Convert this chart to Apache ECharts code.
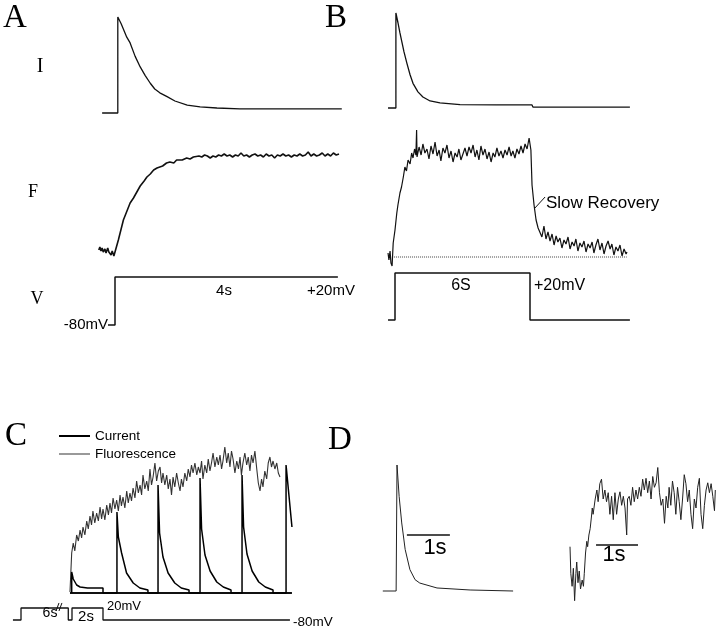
<!DOCTYPE html>
<html><head><meta charset="utf-8">
<script src="https://cdn.jsdelivr.net/npm/echarts@6/dist/echarts.min.js"></script>
<style>html,body{margin:0;padding:0;background:#fff}#c{width:720px;height:632px}</style>
</head><body><div id="c"></div>
<script>
// ---------- DATA (time in s, amplitudes normalised / a.u. / mV) ----------
// Panel A
const aCurrent = [[-0.23,0],[0.05,0],[0.05,1],[0.11,0.93],[0.16,0.86],[0.21,0.79],[0.27,0.73],[0.36,0.59],[0.45,0.48],[0.54,0.39],[0.63,0.31],[0.71,0.25],[0.80,0.21],[0.93,0.17],[1.07,0.125],[1.29,0.083],[1.52,0.063],[1.82,0.052],[2.23,0.042],[4.05,0.042]];
const aFluor = [[-0.29,6],[-0.27,9],[-0.25,5],[-0.23,8],[-0.21,4],[-0.18,7],[-0.16,3],[-0.13,8],[-0.11,4],[-0.09,6],[-0.07,1],[-0.05,5],[-0.02,0],[0,-1],[0.06,16],[0.15,36],[0.27,53],[0.33,58],[0.39,64],[0.45,70],[0.52,75],[0.57,79],[0.63,82],[0.69,86],[0.75,88],[0.85,90],[0.92,93],[0.98,94],[1.05,93],[1.1,96],[1.2,96],[1.28,98],[1.34,97],[1.4,99],
 [1.50,100],[1.55,99],[1.60,101],[1.65,100],[1.70,98],[1.75,100],[1.80,99],[1.85,101],[1.90,100],[1.95,102],[2.00,100],[2.05,101],[2.10,99],[2.15,101],[2.20,100],[2.25,103],[2.30,100],[2.35,101],[2.40,99],[2.45,101],[2.50,102],[2.55,100],[2.60,101],[2.65,99],[2.70,102],[2.75,100],[2.80,101],[2.85,98],[2.90,101],[2.95,100],[3.00,102],[3.05,100],[3.10,101],[3.15,99],[3.20,101],[3.25,100],[3.30,102],[3.35,100],[3.40,101],[3.45,104],[3.50,100],[3.55,102],[3.60,100],[3.65,101],[3.70,103],[3.75,100],[3.80,102],[3.85,100],[3.90,103],[3.95,101],[4.00,102]];
const aVoltage = [[-0.125,-80],[0,-80],[0,20],[3.98,20]];
// Panel B
const bCurrent = [[-0.31,0],[0.04,0],[0.04,1],[0.13,0.9],[0.22,0.79],[0.31,0.69],[0.4,0.59],[0.53,0.47],[0.67,0.35],[0.8,0.26],[1.02,0.17],[1.24,0.116],[1.56,0.074],[2.0,0.053],[2.89,0.035],[4.5,0.032],[6.09,0.032],[6.13,0.01],[10.44,0.01]];
const bFluor = [[-0.31,4],[-0.27,-3],[-0.22,6],[-0.18,-6],[-0.13,-9],[-0.08,14],[0,27],[0.08,44],[0.13,52],[0.22,64],[0.29,70],[0.37,80],[0.44,90],[0.51,86],[0.58,97],[0.67,93],[0.74,104],[0.8,99],[0.87,108],[0.93,102],[0.96,127],
 [0.98,100],[1.07,110],[1.16,102],[1.24,113],[1.33,104],[1.42,108],[1.51,98],[1.60,111],[1.69,103],[1.78,115],[1.87,101],[1.96,107],[2.04,96],[2.13,109],[2.22,104],[2.31,112],[2.40,99],[2.49,106],[2.58,95],[2.67,104],[2.76,100],[2.84,108],[2.93,97],[3.02,103],[3.11,109],[3.20,101],[3.29,110],[3.38,104],[3.47,112],[3.56,100],[3.64,107],[3.73,97],[3.82,111],[3.91,102],[4.00,108],[4.09,98],[4.18,105],[4.27,95],[4.36,104],[4.44,100],[4.53,109],[4.62,101],[4.71,106],[4.80,99],[4.89,107],[4.98,102],[5.07,110],[5.16,101],[5.24,106],[5.33,99],[5.42,108],[5.51,103],[5.60,111],[5.69,104],[5.78,113],[5.87,108],[5.96,119],
 [6.04,107],[6.09,72],[6.18,52],[6.27,37],[6.36,29],
 [6.44,28],[6.53,20],[6.62,31],[6.71,18],[6.80,25],[6.89,16],[6.98,23],[7.07,12],[7.16,21],[7.24,15],[7.33,19],[7.42,9],[7.51,17],[7.60,13],[7.69,20],[7.78,8],[7.87,15],[7.96,11],[8.04,18],[8.13,6],[8.22,14],[8.31,10],[8.40,16],[8.49,5],[8.58,13],[8.67,9],[8.76,15],[8.84,4],[8.93,12],[9.02,18],[9.11,7],[9.20,14],[9.29,3],[9.38,11],[9.47,16],[9.56,8],[9.64,13],[9.73,2],[9.82,10],[9.91,6],[10.0,12],[10.09,1],[10.18,8],[10.27,3],[10.31,5]];
const bBaseline = [[-0.22,0],[10.3,0]];
const bVoltage = [[-0.31,-80],[0,-80],[0,20],[6,20],[6,-80],[10.44,-80]];
const bLeader = [[6.22,49],[6.67,60]];
// Panel C
const cFluor = [[-0.13,0.01],[-0.02,0.40],[0.08,0.50],[0.18,0.42],[0.30,0.58],[0.41,0.52],[0.52,0.63],[0.62,0.55],[0.71,0.66],[0.83,0.58],[0.95,0.72],[1.05,0.64],[1.16,0.77],[1.26,0.68],[1.35,0.82],[1.47,0.70],[1.59,0.80],[1.70,0.72],[1.81,0.86],[1.91,0.74],[2.0,0.84],[2.12,0.73],[2.24,0.88],[2.35,0.78],[2.45,0.90],[2.55,0.80],[2.65,0.95],[2.77,0.84],[2.88,0.93],[2.99,0.82],[3.10,0.98],[3.19,0.87],[3.29,0.96],[3.41,0.85],[3.53,1.02],[3.63,0.90],[3.74,1.00],[3.84,0.92],[3.94,1.05],[4.06,0.95],[4.17,1.12],[4.28,1.00],[4.39,1.08],[4.49,0.98],[4.58,1.18],[4.70,1.04],[4.82,1.12],[4.92,1.02],[5.03,1.24],[5.13,1.08],[5.23,1.16],[5.35,1.30],[5.46,1.12],[5.57,1.22],[5.68,1.26],[5.78,1.10],[5.87,1.20],[5.99,1.08],[6.11,1.18],[6.21,1.04],[6.32,1.14],[6.42,0.98],[6.52,1.16],[6.63,1.06],[6.75,1.20],[6.86,1.10],[6.97,1.02],[7.06,1.14],[7.16,1.06],[7.28,1.20],[7.40,1.12],[7.50,1.24],[7.61,1.16],[7.71,1.28],[7.81,1.20],[7.93,1.30],[8.05,1.18],[8.15,1.26],[8.26,1.20],[8.36,1.32],[8.45,1.14],[8.57,1.28],[8.69,1.20],[8.79,1.34],[8.90,1.22],[9.00,1.30],[9.10,1.40],[9.22,1.26],[9.34,1.36],[9.44,1.28],[9.55,1.38],[9.65,1.24],[9.74,1.32],[9.86,1.46],[9.98,1.30],[10.08,1.40],[10.19,1.26],[10.29,1.42],[10.39,1.34],[10.51,1.20],[10.63,1.32],[10.74,1.24],[10.84,1.36],[10.93,1.18],[11.03,1.30],[11.15,1.40],[11.27,1.28],[11.37,1.36],[11.48,1.22],[11.58,1.38],[11.68,1.30],[11.80,1.42],[11.92,1.24],[12.02,1.10],[12.13,1.02],[12.23,1.14],[12.32,1.06],[12.44,1.22],[12.56,1.14],[12.66,1.30],[12.77,1.36],[12.87,1.26],[12.97,1.32],[13.09,1.24],[13.21,1.30],[13.31,1.20],[13.42,1.16]];
const cCurrent = [[-0.02,0],[-0.02,0.21],[0.08,0.14],[0.3,0.08],[0.52,0.06],[1.0,0.05],[2.0,0.05],[2.0,0],
 [2.9,0],[2.9,0.81],[2.99,0.56],[3.2,0.40],[3.52,0.20],[3.95,0.10],[4.38,0.05],[4.9,0.03],[4.9,0],
 [5.55,0],[5.55,1.08],[5.65,0.60],[5.87,0.36],[6.2,0.20],[6.63,0.10],[7.05,0.05],[7.55,0.03],[7.55,0],
 [8.26,0],[8.26,1.15],[8.36,0.64],[8.58,0.38],[8.91,0.22],[9.34,0.11],[9.76,0.06],[10.26,0.03],[10.26,0],
 [10.97,0],[10.97,1.18],[11.07,0.66],[11.29,0.39],[11.62,0.22],[12.05,0.11],[12.47,0.06],[12.97,0.03],[12.97,0],
 [13.81,0],[13.81,1.28],[14.19,0.66]];
const cBaseline = [[-0.13,0],[14.19,0]];
const cVoltage = [[-3.81,-80],[-3.29,-80],[-3.29,20],[-0.24,20],[-0.24,-80],[0.0,-80],[0.0,20],[2.0,20],[2.0,-80],[14.06,-80]];
const cBreak1 = [[-1.03,-5],[-0.84,62]];
const cBreak2 = [[-0.84,-5],[-0.65,62]];
// Panel D
const dCurrent = [[-0.33,0],[-0.02,0],[0,1],[0.05,0.75],[0.11,0.54],[0.19,0.33],[0.30,0.17],[0.42,0.09],[0.53,0.063],[0.93,0.024],[1.70,0.008],[2.70,0]];
const dFluor = [[0,37],[0.02,7],[0.05,-7],[0.08,13],[0.11,-23],[0.14,7],[0.16,20],[0.19,-3],[0.22,10],[0.25,-10],[0.29,0],[0.32,-7],[0.34,7],[0.37,30],[0.40,43],[0.42,37],[0.45,50],[0.48,57],[0.51,70],[0.53,80],[0.55,73],[0.60,90],[0.64,100],[0.67,87],[0.71,107],[0.75,112],[0.79,90],[0.83,100],[0.87,87],[0.91,97],[0.95,73],[0.99,93],[1.03,67],[1.07,97],[1.11,73],[1.15,90],[1.19,98],[1.23,83],[1.27,93],[1.31,80],[1.35,50],[1.37,90],[1.41,93],[1.45,83],[1.49,103],[1.53,87],[1.57,100],[1.61,90],[1.65,103],[1.69,93],[1.73,112],[1.77,100],[1.81,113],[1.85,97],[1.89,110],[1.93,90],[1.97,115],[2.01,103],[2.05,108],[2.09,125],[2.13,97],[2.17,83],[2.21,90],[2.25,63],[2.29,93],[2.33,80],[2.36,103],[2.40,83],[2.44,110],[2.48,97],[2.52,73],[2.56,103],[2.60,87],[2.64,67],[2.68,90],[2.72,117],[2.76,107],[2.80,87],[2.84,100],[2.88,73],[2.92,57],[2.96,90],[3.00,80],[3.04,103],[3.08,113],[3.12,73],[3.16,57],[3.20,83],[3.24,100],[3.28,108],[3.32,97],[3.36,107],[3.40,93],[3.44,77],[3.46,100]];
const dBarLeft = [[0.23,0.444],[1.23,0.444]];
const dBarRight = [[0.62,39],[1.62,39]];

// ---------- LAYOUT ----------
const grids = [
  {left:87, top:17, width:266, height:96, x:[-0.5,4.25], y:[0,1]},        // 0 A current
  {left:87, top:154, width:266, height:102, x:[-0.5,4.25], y:[0,102]},    // 1 A fluor
  {left:87, top:277, width:266, height:48, x:[-0.5,4.25], y:[-80,20]},    // 2 A voltage
  {left:383.75, top:13, width:247.5, height:95, x:[-0.5,10.5], y:[0,1]},  // 3 B current
  {left:383.75, top:152, width:247.5, height:105, x:[-0.5,10.5], y:[0,105]}, // 4 B fluor
  {left:383.75, top:273, width:247.5, height:47, x:[-0.5,10.5], y:[-80,20]}, // 5 B voltage
  {left:10, top:493, width:286.75, height:100, x:[-4,14.5], y:[0,1]},     // 6 C traces
  {left:10, top:608, width:286.75, height:12, x:[-4,14.5], y:[-80,20]},   // 7 C voltage
  {left:375.5, top:465, width:150.5, height:126, x:[-0.5,3], y:[0,1]},    // 8 D current
  {left:570, top:490, width:147, height:90, x:[0,3.5], y:[0,100]}         // 9 D fluor
];

const option = {
  animation:false,
  backgroundColor:'#fff',
  grid: grids.map(g=>({left:g.left, top:g.top, width:g.width, height:g.height, show:false})),
  xAxis: grids.map((g,i)=>({type:'value', gridIndex:i, min:g.x[0], max:g.x[1], show:false})),
  yAxis: grids.map((g,i)=>({type:'value', gridIndex:i, min:g.y[0], max:g.y[1], show:false})),
  legend: {
    orient:'vertical', left:54, top:424, itemWidth:31, itemHeight:2, itemGap:4,
    textStyle:{fontFamily:'"Liberation Sans", Arial, sans-serif', fontSize:13.5, color:'#000'},
    data:[{name:'Current', icon:'rect', itemStyle:{color:'#000'}},
          {name:'Fluorescence', icon:'rect', itemStyle:{color:'#999'}}],
    selectedMode:false
  },
  series: [],
  graphic: []
};

function trace(idx, data, name, color, width, type){
  option.series.push({type:'line', name:name, xAxisIndex:idx, yAxisIndex:idx, data:data,
    symbol:'none', clip:false, silent:true, smooth:false,
    lineStyle:{color:color, width:width, type:type||'solid'}, itemStyle:{color:color}});
}
trace(0, aCurrent, 'aI', '#111', 1.3);
trace(1, aFluor, 'aF', '#111', 1.6);
trace(2, aVoltage, 'aV', '#111', 1.5);
trace(3, bCurrent, 'bI', '#111', 1.3);
trace(4, bBaseline, 'bBase', '#444', 1, 'dotted');
trace(4, bFluor, 'bF', '#111', 1.2);
trace(4, bLeader, 'bLead', '#111', 1);
trace(5, bVoltage, 'bV', '#111', 1.5);
trace(6, cBaseline, 'cBase', '#111', 2.2);
trace(6, cFluor, 'Fluorescence', '#333', 1.1);
trace(6, cCurrent, 'Current', '#000', 1.5);
trace(7, cVoltage, 'cV', '#111', 1.3);
trace(7, cBreak1, 'cB1', '#111', 1);
trace(7, cBreak2, 'cB2', '#111', 1);
trace(8, dCurrent, 'dI', '#222', 1);
trace(8, dBarLeft, 'dBarL', '#111', 1.5);
trace(9, dFluor, 'dF', '#222', 1);
trace(9, dBarRight, 'dBarR', '#111', 1.5);

const SANS = '"Liberation Sans", Arial, sans-serif';
const SERIF = '"Liberation Serif", "Times New Roman", serif';
function txt(x, y, s, size, fam, align){
  option.graphic.push({type:'text', x:x, y:y, silent:true,
    style:{text:s, font:size+'px '+fam, fill:'#000', align:align||'left', verticalAlign:'middle'}});
}
// panel letters and trace labels
txt(3, 18, 'A', 33, SERIF);
txt(325, 18, 'B', 33, SERIF);
txt(5, 436, 'C', 33, SERIF);
txt(328, 440, 'D', 33, SERIF);
txt(40, 67, 'I', 20, SERIF, 'center');
txt(33, 192, 'F', 18, SERIF, 'center');
txt(37, 299, 'V', 18, SERIF, 'center');
// panel A annotations
txt(108, 325, '-80mV', 15, SANS, 'right');
txt(224, 291, '4s', 15, SANS, 'center');
txt(307, 291, '+20mV', 15, SANS);
// panel B annotations
txt(461, 286, '6S', 16, SANS, 'center');
txt(534, 286, '+20mV', 16, SANS);
txt(546, 203, 'Slow Recovery', 17, SANS);
// panel C annotations
txt(50, 613, '6s', 14, SANS, 'center');
txt(86, 617, '2s', 15, SANS, 'center');
txt(107, 606, '20mV', 13, SANS);
txt(293, 622, '-80mV', 13.5, SANS);
// panel D scale labels
txt(435, 548, '1s', 22, SANS, 'center');
txt(614, 555, '1s', 22, SANS, 'center');

const chart = echarts.init(document.getElementById('c'), null, {renderer:'canvas'});
chart.setOption(option);
</script></body></html>
